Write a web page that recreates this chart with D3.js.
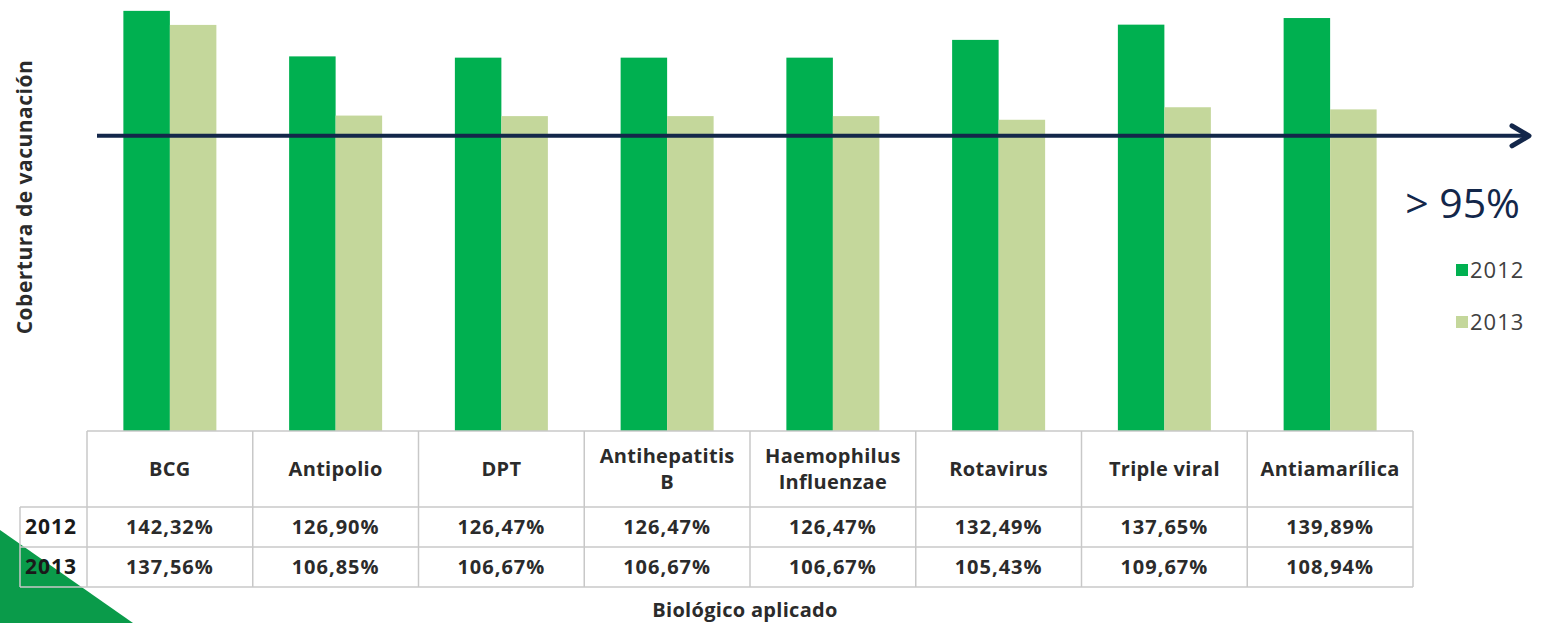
<!DOCTYPE html>
<html>
<head>
<meta charset="utf-8">
<script src="https://cdn.jsdelivr.net/npm/d3@7"></script>
<style>
  body { margin: 0; background: #fff; }
  svg { display: block; }
</style>
</head>
<body>
<div id="chart"></div>
<script>
// chart data
const categories = ["BCG", "Antipolio", "DPT", "Antihepatitis B", "Haemophilus Influenzae", "Rotavirus", "Triple viral", "Antiamarílica"];
const headerLines = [["BCG"], ["Antipolio"], ["DPT"], ["Antihepatitis", "B"], ["Haemophilus", "Influenzae"], ["Rotavirus"], ["Triple viral"], ["Antiamarílica"]];
const years = ["2012", "2013"];
const values2012 = [142.32, 126.90, 126.47, 126.47, 126.47, 132.49, 137.65, 139.89];
const values2013 = [137.56, 106.85, 106.67, 106.67, 106.67, 105.43, 109.67, 108.94];
const targetValue = 100; // where the "> 95%" arrow is drawn
const colors = {"2012": "#00b050", "2013": "#c4d79b"};

const width = 1541, height = 623;
const tableLeft = 87, tableRight = 1413;
const baseY = 431;
const rowTops = [431, 507, 547, 587]; // header, 2012, 2013, bottom

const svg = d3.select("#chart")
    .append("svg")
    .attr("width", width)
    .attr("height", height);

// green corner decoration (behind everything)
svg.append("path")
    .attr("d", "M0,530 L133,623 L0,623 Z")
    .attr("fill", "#0a9b4a");

let x = d3.scaleBand()
    .domain(categories)
    .range([tableLeft, tableRight]);

let y = d3.scaleLinear()
    .domain([0, 146])
    .range([baseY, 0]);

let xInner = d3.scaleBand()
    .domain(years)
    .range([0, 93]);

const offset = (x.bandwidth() - 93) / 2;

let rows = categories.map(function(c, i) {
    return {cat: c, vals: [values2012[i], values2013[i]]};
});

let groups = svg.selectAll("g.grp")
    .data(rows)
    .enter()
    .append("g")
    .attr("class", "grp")
    .attr("transform", d => `translate(${x(d.cat) + offset}, 0)`);

groups.selectAll("rect")
    .data(d => d.vals.map((v, j) => ({year: years[j], v: v})))
    .enter()
    .append("rect")
    .attr("x", d => xInner(d.year))
    .attr("y", d => y(d.v))
    .attr("width", xInner.bandwidth())
    .attr("height", d => baseY - y(d.v))
    .attr("fill", d => colors[d.year]);

// table grid
const grid = svg.append("g")
    .attr("stroke", "#c8c8c8")
    .attr("stroke-width", 1.5);

grid.append("line").attr("x1", tableLeft).attr("x2", tableRight).attr("y1", rowTops[0]).attr("y2", rowTops[0]);
[1, 2, 3].forEach(function(r) {
    grid.append("line").attr("x1", 20).attr("x2", tableRight).attr("y1", rowTops[r]).attr("y2", rowTops[r]);
});
grid.append("line").attr("x1", 20).attr("x2", 20).attr("y1", rowTops[1]).attr("y2", rowTops[3]);
categories.forEach(function(c) {
    grid.append("line").attr("x1", x(c)).attr("x2", x(c)).attr("y1", rowTops[0]).attr("y2", rowTops[3]);
});
grid.append("line").attr("x1", tableRight).attr("x2", tableRight).attr("y1", rowTops[0]).attr("y2", rowTops[3]);

const font = "'Open Sans', Lato, sans-serif";
const txtColor = "#2b2b2b";

// header labels
categories.forEach(function(c, i) {
    const lines = headerLines[i];
    const cy = (rowTops[0] + rowTops[1]) / 2;
    const lh = 26;
    lines.forEach(function(l, k) {
        svg.append("text")
            .attr("x", x(c) + x.bandwidth() / 2)
            .attr("y", cy + (k - (lines.length - 1) / 2) * lh + 7)
            .attr("text-anchor", "middle")
            .style("font", `bold 20px ${font}`)
            .style("letter-spacing", "0.3px")
            .attr("fill", txtColor)
            .text(l);
    });
});

// value rows
const fmt = v => v.toFixed(2).replace(".", ",") + "%";
[values2012, values2013].forEach(function(vals, r) {
    const cy = (rowTops[r + 1] + rowTops[r + 2]) / 2 + 7;
    svg.append("text")
        .attr("x", 51)
        .attr("y", cy)
        .attr("text-anchor", "middle")
        .style("font", `bold 21px ${font}`)
        .style("letter-spacing", "1px")
        .attr("fill", "#1a1a1a")
        .text(years[r]);
    vals.forEach(function(v, i) {
        svg.append("text")
            .attr("x", x(categories[i]) + x.bandwidth() / 2)
            .attr("y", cy)
            .attr("text-anchor", "middle")
            .style("font", `bold 20px ${font}`)
            .style("letter-spacing", "1px")
            .attr("fill", txtColor)
            .text(fmt(v));
    });
});

// axis titles
svg.append("text")
    .attr("x", 745)
    .attr("y", 617)
    .attr("text-anchor", "middle")
    .style("font", `bold 20px ${font}`)
    .style("letter-spacing", "0.3px")
    .attr("fill", txtColor)
    .text("Biológico aplicado");

svg.append("text")
    .attr("transform", "translate(32, 197) rotate(-90)")
    .attr("text-anchor", "middle")
    .style("font", `bold 21px ${font}`)
    .style("letter-spacing", "0.5px")
    .attr("fill", txtColor)
    .text("Cobertura de vacunación");

// target arrow
const ty = y(targetValue);
svg.append("line")
    .attr("x1", 97).attr("x2", 1527)
    .attr("y1", ty).attr("y2", ty)
    .attr("stroke", "#13274a")
    .attr("stroke-width", 4);
svg.append("path")
    .attr("d", `M1512,${ty - 10} L1529,${ty} L1512,${ty + 10}`)
    .attr("fill", "none")
    .attr("stroke", "#13274a")
    .attr("stroke-width", 5)
    .attr("stroke-linecap", "round")
    .attr("stroke-linejoin", "round");

svg.append("text")
    .attr("x", 1520)
    .attr("y", 218)
    .attr("text-anchor", "end")
    .style("font", `41px ${font}`)
    .attr("fill", "#13274a")
    .text("> 95%");

// legend
years.forEach(function(yr, i) {
    const ly = 270 + i * 52;
    svg.append("rect")
        .attr("x", 1456).attr("y", ly - 6)
        .attr("width", 12).attr("height", 12)
        .attr("fill", colors[yr]);
    svg.append("text")
        .attr("x", 1470).attr("y", ly + 8)
        .style("font", `22px ${font}`)
        .style("letter-spacing", "1px")
        .attr("fill", "#404040")
        .text(yr);
});
</script>
</body>
</html>
